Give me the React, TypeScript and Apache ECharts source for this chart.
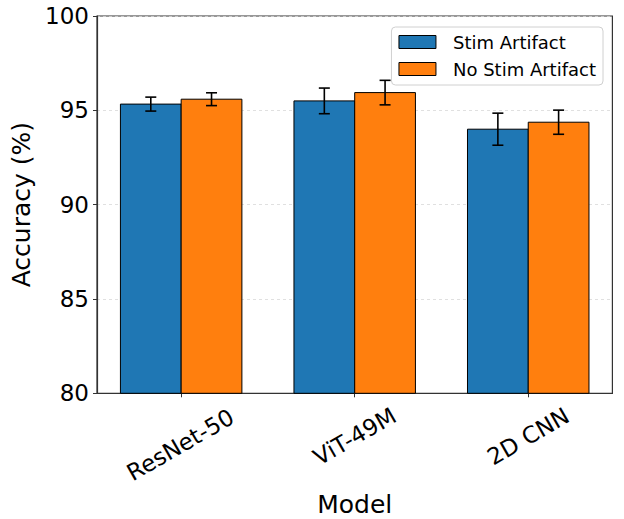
import React, { useEffect, useRef } from "react";
import * as echarts from "echarts";

const categories = ["ResNet-50", "ViT-49M", "2D CNN"];
const seriesNames = ["Stim Artifact", "No Stim Artifact"];
const stimValues = [95.33, 95.5, 94.0];
const stimErrors = [0.37, 0.68, 0.85];
const noStimValues = [95.59, 95.94, 94.37];
const noStimErrors = [0.34, 0.65, 0.64];
const yTicks = [80, 85, 90, 95, 100];
const colors = ["#1f77b4", "#ff7f0e"];

const FONT = "DejaVu Sans";
const BAR_W = 0.35;
const Y_MIN = yTicks[0];
const Y_MAX = yTicks[yTicks.length - 1];

function barSeries(name: string, values: number[], offset: number, color: string) {
  return {
    name,
    type: "custom",
    data: values.map((v, i) => [i + offset, v]),
    renderItem: (params: any, api: any) => {
      const x = api.value(0);
      const y = api.value(1);
      const p0 = api.coord([x - BAR_W / 2, y]);
      const p1 = api.coord([x + BAR_W / 2, Y_MIN]);
      return {
        type: "rect",
        shape: { x: p0[0], y: p0[1], width: p1[0] - p0[0], height: p1[1] - p0[1] },
        style: { fill: color, stroke: "#000", lineWidth: 1 },
      };
    },
    itemStyle: { color, borderColor: "#000", borderWidth: 1 },
    z: 2,
  };
}

function errSeries(name: string, values: number[], errs: number[], offset: number) {
  return {
    name,
    type: "custom",
    data: values.map((v, i) => [i + offset, v, errs[i]]),
    renderItem: (params: any, api: any) => {
      const x = api.value(0);
      const y = api.value(1);
      const e = api.value(2);
      const top = api.coord([x, y + e]);
      const bot = api.coord([x, y - e]);
      const cap = 5.5;
      const st = { stroke: "#000", lineWidth: 1.6 };
      return {
        type: "group",
        children: [
          { type: "line", shape: { x1: top[0], y1: top[1], x2: bot[0], y2: bot[1] }, style: st },
          { type: "line", shape: { x1: top[0] - cap, y1: top[1], x2: top[0] + cap, y2: top[1] }, style: st },
          { type: "line", shape: { x1: bot[0] - cap, y1: bot[1], x2: bot[0] + cap, y2: bot[1] }, style: st },
        ],
      };
    },
    z: 5,
  };
}

export default function App() {
  const ref = useRef<HTMLDivElement>(null);
  useEffect(() => {
    if (!ref.current) return;
    document.body.style.margin = "0";
    const chart = echarts.init(ref.current, undefined, { renderer: "svg" });
    chart.setOption({
      animation: false,
      backgroundColor: "#fff",
      textStyle: { fontFamily: FONT },
      grid: {
        left: 97,
        right: 11.6,
        top: 16,
        bottom: 125.7,
        outerBoundsMode: "none",
        containLabel: false,
        show: true,
        borderColor: "#333",
        borderWidth: 1.2,
      },
      legend: {
        data: seriesNames.map((n, i) => ({
          name: n,
          icon: "rect",
          itemStyle: { color: colors[i], borderColor: "#000", borderWidth: 1 },
        })),
        orient: "vertical",
        right: 21,
        top: 27,
        padding: [6, 7, 7, 7],
        itemGap: 9,
        itemWidth: 37,
        itemHeight: 13,
        borderColor: "#d0d0d0",
        borderWidth: 1,
        borderRadius: 4,
        backgroundColor: "rgba(255,255,255,0.85)",
        textStyle: { fontFamily: FONT, fontSize: 18, color: "#000", padding: [0, 0, 0, 12] },
      },
      xAxis: {
        type: "value",
        min: -0.485,
        max: 2.485,
        name: "Model",
        nameLocation: "middle",
        nameGap: 99,
        nameTextStyle: { fontFamily: FONT, fontSize: 25, color: "#000" },
        axisLine: { show: true, onZero: false, lineStyle: { color: "#333", width: 1.2 } },
        axisTick: { show: true, length: 4, customValues: [0, 1, 2], lineStyle: { color: "#333" } },
        axisLabel: {
          customValues: [0, 1, 2],
          formatter: (v: number) => {
            const i = Math.round(v);
            return i === 0 ? `{long|${categories[i]}}` : `{short|${categories[i] ?? ""}}`;
          },
          rotate: 30,
          align: "center",
          verticalAlign: "middle",
          margin: 43,
          fontFamily: FONT,
          fontSize: 23,
          color: "#000",
          rich: {
            long: { fontFamily: FONT, fontSize: 23, color: "#000", padding: [14, 10, 0, 0] },
            short: { fontFamily: FONT, fontSize: 23, color: "#000" },
          },
        },
        splitLine: { show: false },
      },
      yAxis: {
        type: "value",
        min: Y_MIN,
        max: Y_MAX,
        interval: 5,
        name: "Accuracy (%)",
        nameLocation: "middle",
        nameGap: 60,
        nameTextStyle: { fontFamily: FONT, fontSize: 25, color: "#000" },
        axisLine: { show: true, onZero: false, lineStyle: { color: "#333", width: 1.2 } },
        axisTick: { show: true, length: 4, lineStyle: { color: "#333" } },
        axisLabel: { fontFamily: FONT, fontSize: 23, color: "#000", margin: 8 },
        splitLine: { show: true, lineStyle: { color: "#d8d8d8", type: [3, 3], width: 0.8 } },
      },
      series: [
        barSeries(seriesNames[0], stimValues, -BAR_W / 2, colors[0]),
        barSeries(seriesNames[1], noStimValues, BAR_W / 2, colors[1]),
        errSeries(seriesNames[0], stimValues, stimErrors, -BAR_W / 2),
        errSeries(seriesNames[1], noStimValues, noStimErrors, BAR_W / 2),
      ],
    });
    return () => chart.dispose();
  }, []);
  return <div ref={ref} style={{ width: 624, height: 519 }} />;
}
